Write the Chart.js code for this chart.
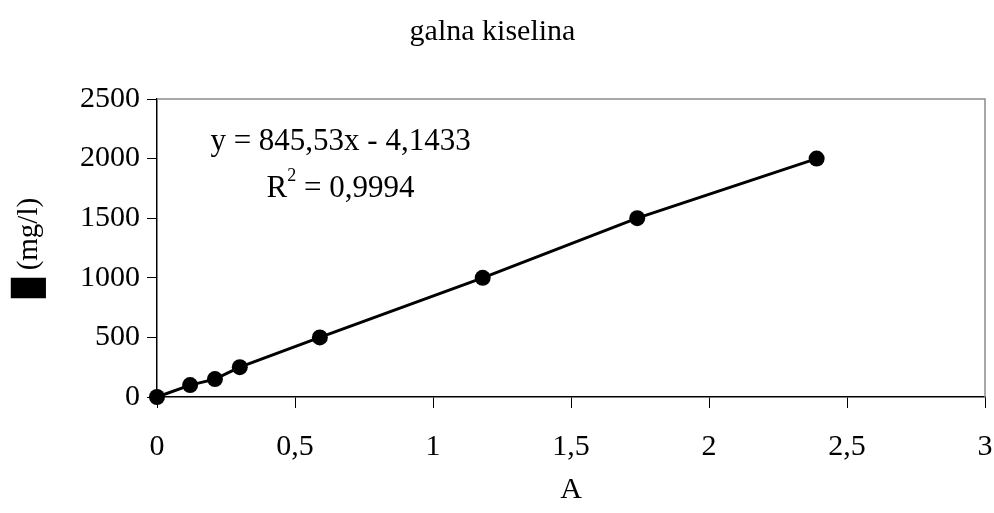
<!DOCTYPE html>
<html>
<head>
<meta charset="utf-8">
<script src="https://cdn.jsdelivr.net/npm/chart.js@4/dist/chart.umd.min.js"></script>
<style>
  html, body { margin:0; padding:0; background:#fff; }
  #wrap { width:994px; height:513px; position:relative; }
</style>
</head>
<body>
<div id="wrap"><canvas id="c" width="994" height="513"></canvas></div>
<script>
// ── data ─────────────────────────────────────────────────────────────────────
const ABSORBANCE = [0, 0.12, 0.21, 0.30, 0.59, 1.18, 1.74, 2.39];
const CONC_MG_L  = [0, 100, 150, 250, 500, 1000, 1500, 2000];
const X_TICKS    = [0, 0.5, 1, 1.5, 2, 2.5, 3];
const Y_TICKS    = [0, 500, 1000, 1500, 2000, 2500];

const TITLE      = "galna kiselina";
const X_TITLE    = "A";
const Y_TITLE    = "\u2588 (mg/l)";
const EQ_LINE    = "y = 845,53x - 4,1433";
const R2_VALUE   = " = 0,9994";
// anchor of the equation label, in data units
const EQ_AT      = { x: 0.665, y1: 2140, y2: 1745 };

const FONT = "'Liberation Serif', 'Times New Roman', serif";
const fmt = v => String(v).replace(".", ",");

// gray frame on the top and right of the plot area
const plotFrame = {
  id: "plotFrame",
  beforeDatasetsDraw(chart) {
    const { ctx, chartArea:{ left, top, right, bottom } } = chart;
    ctx.save();
    ctx.strokeStyle = "#8c8c8c";
    ctx.lineWidth = 1.5;
    ctx.beginPath();
    ctx.moveTo(left, top);
    ctx.lineTo(right, top);
    ctx.lineTo(right, bottom);
    ctx.stroke();
    ctx.restore();
  }
};

// trendline label drawn on top of the plot
const equationLabel = {
  id: "equationLabel",
  afterDraw(chart) {
    const { ctx, scales:{ x, y } } = chart;
    const cx = x.getPixelForValue(EQ_AT.x);
    const big = `31px ${FONT}`, small = `18px ${FONT}`;
    ctx.save();
    ctx.fillStyle = "#000";
    ctx.textBaseline = "middle";
    ctx.font = big;
    ctx.textAlign = "center";
    ctx.fillText(EQ_LINE, cx, y.getPixelForValue(EQ_AT.y1));
    // R² line: R + superscript 2 + rest
    const y2 = y.getPixelForValue(EQ_AT.y2);
    const wR = ctx.measureText("R").width;
    const wRest = ctx.measureText(R2_VALUE).width;
    ctx.font = small;
    const wSup = ctx.measureText("2").width;
    const left = cx - (wR + wSup + wRest) / 2;
    ctx.textAlign = "left";
    ctx.font = big;
    ctx.fillText("R", left, y2);
    ctx.font = small;
    ctx.fillText("2", left + wR, y2 - 13);
    ctx.font = big;
    ctx.fillText(R2_VALUE, left + wR + wSup, y2);
    ctx.restore();
  }
};

new Chart(document.getElementById("c"), {
  type: "scatter",
  data: {
    datasets: [{
      data: ABSORBANCE.map((a, i) => ({ x: a, y: CONC_MG_L[i] })),
      showLine: true,
      clip: false,
      borderColor: "#000",
      borderWidth: 3,
      backgroundColor: "#000",
      pointRadius: 8,
      pointBorderWidth: 0,
      pointHoverRadius: 8,
    }],
  },
  options: {
    responsive: false,
    animation: false,
    layout: { padding: { left: 0, right: 9, top: 0, bottom: 0 } },
    plugins: {
      legend: { display: false },
      tooltip: { enabled: false },
      title: {
        display: true, text: TITLE, color: "#000",
        font: { family: FONT, size: 30, weight: "normal" },
        padding: { top: 14, bottom: 49 },
      },
    },
    scales: {
      x: {
        type: "linear", min: 0, max: 3,
        afterBuildTicks: s => { s.ticks = X_TICKS.map(v => ({ value: v })); },
        afterFit: s => { s.height = 116; s.paddingRight = 0; },
        grid: { display: true, drawOnChartArea: false, drawTicks: true, tickLength: 11, color: "#000", tickWidth: 1 },
        border: { display: true, color: "#000", width: 1.5 },
        ticks: { color: "#000", font: { family: FONT, size: 30 }, padding: 21, maxRotation: 0, callback: v => fmt(v) },
        title: { display: true, text: X_TITLE, color: "#000", font: { family: FONT, size: 30 }, padding: { top: 0, bottom: 5 } },
      },
      y: {
        type: "linear", min: 0, max: 2500,
        afterBuildTicks: s => { s.ticks = Y_TICKS.map(v => ({ value: v })); },
        afterFit: s => { s.width = 157; },
        grid: { display: true, drawOnChartArea: false, drawTicks: true, tickLength: 10, color: "#000", tickWidth: 1 },
        border: { display: true, color: "#000", width: 1.5 },
        ticks: { color: "#000", font: { family: FONT, size: 30 }, padding: 7, callback: v => fmt(v) },
        title: { display: true, text: Y_TITLE, color: "#000", font: { family: FONT, size: 29 }, padding: { top: 12, bottom: 0 } },
      },
    },
  },
  plugins: [plotFrame, equationLabel],
});
</script>
</body>
</html>
